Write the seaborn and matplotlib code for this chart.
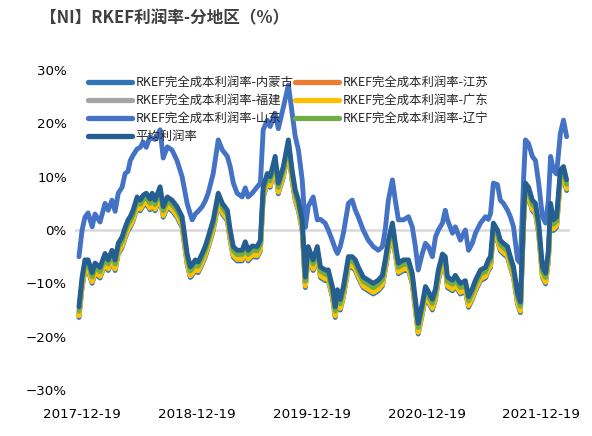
import matplotlib
matplotlib.use("Agg")
import matplotlib.pyplot as plt
from matplotlib.ticker import FuncFormatter
from matplotlib.lines import Line2D
import seaborn as sns
import pandas as pd

dates = [
    "2017-12-09", "2017-12-19", "2017-12-28", "2018-01-07", "2018-01-20", "2018-01-29", "2018-02-14", "2018-03-02",
    "2018-03-12", "2018-03-24", "2018-04-03", "2018-04-13", "2018-04-25", "2018-05-05", "2018-05-14", "2018-05-21",
    "2018-05-30", "2018-06-12", "2018-06-22", "2018-07-01", "2018-07-11", "2018-07-23", "2018-07-30", "2018-08-08",
    "2018-08-24", "2018-09-03", "2018-09-16", "2018-10-01", "2018-10-17", "2018-11-02", "2018-11-18", "2018-11-28",
    "2018-12-04", "2018-12-14", "2018-12-23", "2019-01-05",
    "2019-01-15", "2019-01-24", "2019-02-09", "2019-02-25", "2019-03-10", "2019-03-26", "2019-04-04", "2019-04-14",
    "2019-04-26", "2019-05-12", "2019-05-22", "2019-05-31", "2019-06-13", "2019-06-29", "2019-07-09", "2019-07-18",
    "2019-07-31", "2019-08-09", "2019-08-25", "2019-09-04", "2019-09-20", "2019-10-06", "2019-10-18", "2019-10-28",
    "2019-11-07", "2019-11-19", "2019-11-29", "2019-12-08", "2019-12-24", "2020-01-06", "2020-01-16", "2020-01-31",
    "2020-02-10", "2020-02-23", "2020-03-03", "2020-03-10", "2020-03-19", "2020-03-29", "2020-04-14", "2020-04-26",
    "2020-05-06", "2020-05-15", "2020-05-31", "2020-06-16", "2020-07-02", "2020-07-18", "2020-07-31", "2020-08-09",
    "2020-08-19", "2020-09-01", "2020-09-10", "2020-09-20", "2020-10-06", "2020-10-22", "2020-11-03", "2020-11-13",
    "2020-11-22", "2020-12-05", "2020-12-15", "2020-12-24", "2021-01-06", "2021-01-16", "2021-01-25",
    "2021-02-07", "2021-02-16", "2021-02-23", "2021-03-11", "2021-03-20", "2021-04-05", "2021-04-21", "2021-05-01",
    "2021-05-13", "2021-05-23", "2021-06-08", "2021-06-24", "2021-07-03", "2021-07-10", "2021-07-19", "2021-08-01",
    "2021-08-10", "2021-08-20", "2021-09-02", "2021-09-11", "2021-09-21", "2021-10-04", "2021-10-13", "2021-10-23",
    "2021-10-29", "2021-11-08", "2021-11-20", "2021-11-30", "2021-12-10", "2021-12-22", "2022-01-01", "2022-01-10",
    "2022-01-17", "2022-01-26", "2022-02-05", "2022-02-17", "2022-02-27", "2022-03-09",
]

# 平均利润率 (%)
avg = [
    -14.4, -8.8, -5.6, -5.6, -8.0, -6.2, -7.0, -4.4, -5.6, -3.8, -5.6, -2.5, -1.3, 0.5, 1.9, 2.5, 3.7, 6.2, 5.6, 6.5,
    6.9, 5.8, 6.9, 5.6, 8.1, 4.4, 6.2, 5.6, 4.4, 2.5, -4.4, -6.9, -6.5, -5.6, -6.0, -4.4,
    -3.0, -1.3, 1.9, 6.9, 5.0, 3.7, 0.0, -3.1, -3.8, -3.8, -2.2, -3.8, -3.0, -3.1, -1.9, 8.1, 10.6, 10.0, 13.8, 8.8,
    11.9, 16.9, 11.2, 7.5, 5.6, 1.9, -8.8, -3.1, -5.6, -3.1, -6.9, -7.5,
    -7.5, -10.6, -14.4, -11.2, -13.0, -10.6, -5.0, -5.0, -5.6, -6.9, -8.8, -9.4, -10.0, -9.4, -8.5, -5.6, -1.9, 1.3,
    -2.5, -6.2, -5.6, -5.6, -8.1, -13.0, -17.5, -13.8, -10.6, -11.5, -13.0, -11.0, -7.5,
    -4.5, -5.0, -8.8, -9.4, -8.5, -10.0, -9.5, -12.5, -11.0, -9.4, -7.5, -7.0, -5.6, -5.0, 1.3, 0.0, -1.9, -2.5, -3.1,
    -5.0, -6.9, -11.9, -13.5, 3.1, 8.8, 8.0, 5.6, 5.0, 1.3, -6.9, -8.1, -3.8, 5.0, 1.9, 2.5, 11.2, 11.9, 9.4,
]

# 山东
shandong = [
    -5.0, 0.0, 2.4, 3.2, 0.6, 3.0, 1.5, 5.0, 3.7, 5.6, 3.5, 6.9, 8.0, 10.6, 11.0, 13.0, 14.0, 15.2, 15.5, 16.5, 15.5,
    17.5, 17.2, 17.0, 18.8, 13.5, 15.6, 15.0, 13.0, 10.0, 5.0, 3.0, 1.9, 3.0, 3.5, 4.4,
    5.5, 6.9, 10.6, 16.9, 15.0, 13.8, 11.9, 8.8, 6.9, 6.2, 7.9, 6.2, 6.9, 8.1, 8.8, 18.8, 20.6, 19.4, 21.9, 19.0, 23.0,
    27.2, 21.9, 17.5, 15.0, 9.4, 0.5, 4.4, 6.2, 1.9, 2.0, 1.3,
    0.0, -2.0, -3.5, -4.4, -3.1, -0.6, 5.0, 5.6, 3.7, 2.5, 0.0, -1.9, -3.1, -3.8, -3.1, 0.0, 5.6, 9.4, 5.6, 1.9, 1.9,
    2.5, 0.6, -3.1, -7.5, -4.4, -2.5, -3.1, -5.0, -1.3, 0.0,
    1.3, 3.7, 1.9, -0.6, 0.6, -1.9, 0.0, -3.8, -2.5, -0.6, 1.3, 2.5, 2.0, 3.1, 8.8, 8.5, 5.6, 5.0, 3.7, 2.5, 0.6, -5.6,
    -6.2, 9.4, 16.9, 16.2, 13.8, 13.0, 8.8, 2.5, 1.3, 5.6, 13.8, 11.2, 10.5, 18.1, 20.6, 17.5,
]

# 辽宁
liaoning = [
    -15.2, -9.6, -6.4, -6.4, -8.8, -7.0, -7.8, -5.2, -6.4, -4.6, -6.4, -3.3, -2.1, -0.3, 1.1, 1.7, 2.9, 5.4, 4.8, 5.7,
    6.1, 5.0, 6.1, 4.8, 7.3, 3.6, 5.4, 4.8, 3.6, 1.7, -5.2, -7.7, -7.3, -6.4, -6.8, -5.2,
    -3.8, -2.1, 1.1, 6.1, 4.2, 2.9, -0.8, -3.9, -4.6, -4.6, -3.0, -4.6, -3.8, -3.9, -2.7, 7.3, 9.8, 9.2, 13.0, 8.0,
    11.1, 16.1, 10.4, 6.7, 4.8, 1.1, -9.6, -3.9, -6.4, -3.9, -7.7, -8.3,
    -8.3, -11.4, -15.2, -12.0, -13.8, -11.4, -5.8, -5.8, -6.4, -7.7, -9.6, -10.2, -10.8, -10.2, -9.3, -6.4, -2.7, 0.5,
    -3.3, -7.0, -6.4, -6.4, -8.9, -13.8, -18.3, -14.6, -11.4, -12.3, -13.8, -11.8, -8.3,
    -5.3, -5.8, -9.6, -10.2, -9.3, -10.8, -10.3, -13.3, -11.8, -10.2, -8.3, -7.8, -6.4, -5.8, 0.5, -0.8, -2.7, -3.3,
    -3.9, -5.8, -7.7, -12.7, -14.3, 2.3, 8.0, 7.2, 4.8, 4.2, 0.5, -7.7, -8.9, -4.6, 4.2, 1.1, 1.7, 10.4, 11.1, 8.6,
]

# 广东
guangdong = [
    -16.1, -10.5, -7.3, -7.3, -9.7, -7.9, -8.7, -6.1, -7.3, -5.5, -7.3, -4.2, -3.0, -1.2, 0.2, 0.8, 2.0, 4.5, 3.9, 4.8,
    5.2, 4.1, 5.2, 3.9, 6.4, 2.7, 4.5, 3.9, 2.7, 0.8, -6.1, -8.6, -8.2, -7.3, -7.7, -6.1,
    -4.7, -3.0, 0.2, 5.2, 3.3, 2.0, -1.7, -4.8, -5.5, -5.5, -3.9, -5.5, -4.7, -4.8, -3.6, 6.4, 8.9, 8.3, 12.1, 7.1,
    10.2, 15.2, 9.5, 5.8, 3.9, 0.2, -10.5, -4.8, -7.3, -4.8, -8.6, -9.2,
    -9.2, -12.3, -16.1, -12.9, -14.7, -12.3, -6.7, -6.7, -7.3, -8.6, -10.5, -11.1, -11.7, -11.1, -10.2, -7.3, -3.6,
    -0.4, -4.2, -7.9, -7.3, -7.3, -9.8, -14.7, -19.2, -15.5, -12.3, -13.2, -14.7, -12.7, -9.2,
    -6.2, -6.7, -10.5, -11.1, -10.2, -11.7, -11.2, -14.2, -12.7, -11.1, -9.2, -8.7, -7.3, -6.7, -0.4, -1.7, -3.6, -4.2,
    -4.8, -6.7, -8.6, -13.6, -15.2, 1.4, 7.1, 6.3, 3.9, 3.3, -0.4, -8.6, -9.8, -5.5, 3.3, 0.2, 0.8, 9.5, 10.2, 7.7,
]

# 内蒙古
neimenggu = [
    -16.4, -10.8, -7.6, -7.6, -10.0, -8.2, -9.0, -6.4, -7.6, -5.8, -7.6, -4.5, -3.3, -1.5, -0.1, 0.5, 1.7, 4.2, 3.6,
    4.5, 4.9, 3.8, 4.9, 3.6, 6.1, 2.4, 4.2, 3.6, 2.4, 0.5, -6.4, -8.9, -8.5, -7.6, -8.0, -6.4,
    -5.0, -3.3, -0.1, 4.9, 3.0, 1.7, -2.0, -5.1, -5.8, -5.8, -4.2, -5.8, -5.0, -5.1, -3.9, 6.1, 8.6, 8.0, 11.8, 6.8,
    9.9, 14.9, 9.2, 5.5, 3.6, -0.1, -10.8, -5.1, -7.6, -5.1, -8.9, -9.5,
    -9.5, -12.6, -16.4, -13.2, -15.0, -12.6, -7.0, -7.0, -7.6, -8.9, -10.8, -11.4, -12.0, -11.4, -10.5, -7.6, -3.9,
    -0.7, -4.5, -8.2, -7.6, -7.6, -10.1, -15.0, -19.5, -15.8, -12.6, -13.5, -15.0, -13.0, -9.5,
    -6.5, -7.0, -10.8, -11.4, -10.5, -12.0, -11.5, -14.5, -13.0, -11.4, -9.5, -9.0, -7.6, -7.0, -0.7, -2.0, -3.9, -4.5,
    -5.1, -7.0, -8.9, -13.9, -15.5, 1.1, 6.8, 6.0, 3.6, 3.0, -0.7, -8.9, -10.1, -5.8, 3.0, -0.1, 0.5, 9.2, 9.9, 7.4,
]

# 江苏
jiangsu = [
    -15.8, -10.2, -7.0, -7.0, -9.4, -7.6, -8.4, -5.8, -7.0, -5.2, -7.0, -3.9, -2.7, -0.9, 0.5, 1.1, 2.3, 4.8, 4.2, 5.1,
    5.5, 4.4, 5.5, 4.2, 6.7, 3.0, 4.8, 4.2, 3.0, 1.1, -5.8, -8.3, -7.9, -7.0, -7.4, -5.8,
    -4.4, -2.7, 0.5, 5.5, 3.6, 2.3, -1.4, -4.5, -5.2, -5.2, -3.6, -5.2, -4.4, -4.5, -3.3, 6.7, 9.2, 8.6, 12.4, 7.4,
    10.5, 15.5, 9.8, 6.1, 4.2, 0.5, -10.2, -4.5, -7.0, -4.5, -8.3, -8.9,
    -8.9, -12.0, -15.8, -12.6, -14.4, -12.0, -6.4, -6.4, -7.0, -8.3, -10.2, -10.8, -11.4, -10.8, -9.9, -7.0, -3.3,
    -0.1, -3.9, -7.6, -7.0, -7.0, -9.5, -14.4, -18.9, -15.2, -12.0, -12.9, -14.4, -12.4, -8.9,
    -5.9, -6.4, -10.2, -10.8, -9.9, -11.4, -10.9, -13.9, -12.4, -10.8, -8.9, -8.4, -7.0, -6.4, -0.1, -1.4, -3.3, -3.9,
    -4.5, -6.4, -8.3, -13.3, -14.9, 1.7, 7.4, 6.6, 4.2, 3.6, -0.1, -8.3, -9.5, -5.2, 3.6, 0.5, 1.1, 9.8, 10.5, 8.0,
]

# 福建
fujian = [
    -16.0, -10.4, -7.2, -7.2, -9.6, -7.8, -8.6, -6.0, -7.2, -5.4, -7.2, -4.1, -2.9, -1.1, 0.3, 0.9, 2.1, 4.6, 4.0, 4.9,
    5.3, 4.2, 5.3, 4.0, 6.5, 2.8, 4.6, 4.0, 2.8, 0.9, -6.0, -8.5, -8.1, -7.2, -7.6, -6.0,
    -4.6, -2.9, 0.3, 5.3, 3.4, 2.1, -1.6, -4.7, -5.4, -5.4, -3.8, -5.4, -4.6, -4.7, -3.5, 6.5, 9.0, 8.4, 12.2, 7.2,
    10.3, 15.3, 9.6, 5.9, 4.0, 0.3, -10.4, -4.7, -7.2, -4.7, -8.5, -9.1,
    -9.1, -12.2, -16.0, -12.8, -14.6, -12.2, -6.6, -6.6, -7.2, -8.5, -10.4, -11.0, -11.6, -11.0, -10.1, -7.2, -3.5,
    -0.3, -4.1, -7.8, -7.2, -7.2, -9.7, -14.6, -19.1, -15.4, -12.2, -13.1, -14.6, -12.6, -9.1,
    -6.1, -6.6, -10.4, -11.0, -10.1, -11.6, -11.1, -14.1, -12.6, -11.0, -9.1, -8.6, -7.2, -6.6, -0.3, -1.6, -3.5, -4.1,
    -4.7, -6.6, -8.5, -13.5, -15.1, 1.5, 7.2, 6.4, 4.0, 3.4, -0.3, -8.5, -9.7, -5.4, 3.4, 0.3, 0.9, 9.6, 10.3, 7.8,
]

series_names = [
    "RKEF完全成本利润率-内蒙古", "RKEF完全成本利润率-江苏", "RKEF完全成本利润率-福建",
    "RKEF完全成本利润率-广东", "RKEF完全成本利润率-山东", "RKEF完全成本利润率-辽宁", "平均利润率",
]
series_values = [neimenggu, jiangsu, fujian, guangdong, shandong, liaoning, avg]
colors = ["#2E75B6", "#ED7D31", "#A5A5A5", "#FFC000", "#4472C4", "#70AD47", "#255E91"]

xtick_labels = ["2017-12-19", "2018-12-19", "2019-12-19", "2020-12-19", "2021-12-19"]
ytick_values = [-30, -20, -10, 0, 10, 20, 30]
title = "【NI】RKEF利润率-分地区（%）"

rows = []
for name, vals in zip(series_names, series_values):
    for d, v in zip(dates, vals):
        rows.append({"date": pd.Timestamp(d), "value": v, "series": name})
df = pd.DataFrame(rows)

sns.set_theme(style="white")
plt.rcParams["font.family"] = ["Noto Sans CJK SC", "DejaVu Sans"]
plt.rcParams["axes.unicode_minus"] = True

fig = plt.figure(figsize=(5.92, 4.36), dpi=100)
ax = fig.add_axes([0.127, 0.1055, 0.836, 0.7339])

ax.axhline(0, color="#D9D9D9", lw=1.8, zorder=0)
sns.lineplot(data=df, x="date", y="value", hue="series", hue_order=series_names,
             palette=colors, estimator=None, linewidth=3.5, ax=ax, legend=False)
for ln in ax.get_lines()[1:]:
    ln.set_solid_capstyle("round")
    ln.set_solid_joinstyle("round")

ax.set_ylim(-30, 30)
ax.set_yticks(ytick_values)
ax.yaxis.set_major_formatter(FuncFormatter(lambda v, p: f"{int(v)}%".replace("-", "\u2212")))
ax.set_xlim(pd.Timestamp("2017-11-27"), pd.Timestamp("2022-03-20"))
ax.set_xticks([pd.Timestamp(s) for s in xtick_labels])
ax.set_xticklabels(xtick_labels)
ax.set_xlabel("")
ax.set_ylabel("")
for s in ax.spines.values():
    s.set_visible(False)
ax.tick_params(axis="both", length=0, colors="#000000")
for lab in ax.get_xticklabels() + ax.get_yticklabels():
    lab.set_fontfamily("DejaVu Sans")
    lab.set_fontsize(9.6)
ax.tick_params(axis="x", pad=13)
ax.tick_params(axis="y", pad=6)

# legend (column-major ordering so rows read like the reference)
handles = {n: Line2D([0], [0], color=c, lw=3.8, solid_capstyle="round") for n, c in zip(series_names, colors)}
order = ["RKEF完全成本利润率-内蒙古", "RKEF完全成本利润率-福建", "RKEF完全成本利润率-山东", "平均利润率",
         "RKEF完全成本利润率-江苏", "RKEF完全成本利润率-广东", "RKEF完全成本利润率-辽宁"]
leg = ax.legend([handles[n] for n in order], order, ncol=2, loc="upper left",
                bbox_to_anchor=(0.01, 1.005), frameon=False, fontsize=8.9,
                handlelength=3.6, handletextpad=0.3, columnspacing=0.1, labelspacing=0.42,
                borderaxespad=0.2)

fig.text(0.068, 0.958, title, fontsize=12, fontweight="bold", color="#404040", va="center", ha="left")

fig.savefig("out.png", dpi=100)
